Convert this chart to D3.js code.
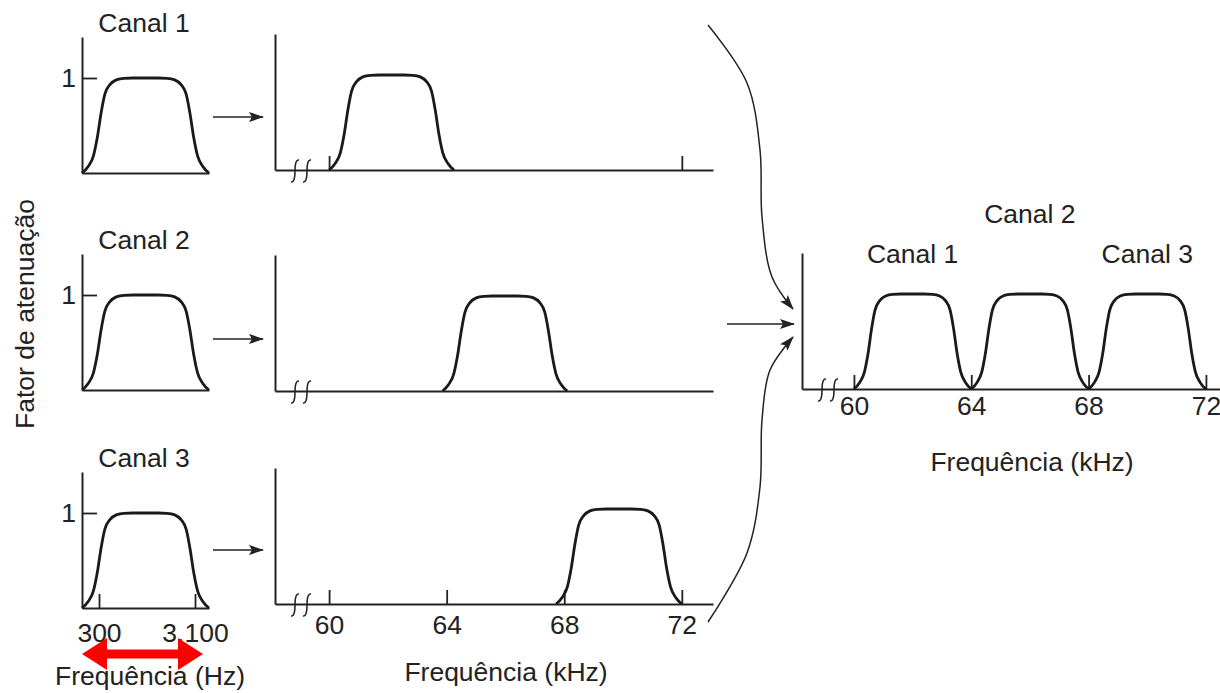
<!DOCTYPE html>
<html>
<head>
<meta charset="UTF-8">
<style>
  body { margin: 0; background: #fff; }
  svg text { font-family: 'Liberation Sans', Arial, sans-serif; fill: #222; }
</style>
</head>
<body>
<svg id="fdm" width="1220" height="693"></svg>
<script src="https://d3js.org/d3.v7.min.js"></script>
<script>
// channel names
const channels = ["Canal 1", "Canal 2", "Canal 3"];

// left column: voice band, Hz
const voiceTicks = [300, 3100];
const voiceTickLabels = ["300", "3.100"];
const voiceBand = [-196, 3508];   // where the drawn filter curve starts and ends

// middle column: each channel shifted up, kHz
const shiftedBands = [[60, 64.25], [63.86, 68.1], [67.72, 72]];
const shiftedTicks = [[60, 72], [], [60, 64, 68, 72]];

// right column: the three channels multiplexed, kHz
const muxBands = [[60, 64], [64, 68], [68, 72]];
const kHzTicks = [60, 64, 68, 72];

// filter response: position across the band (0..1) -> attenuation factor
const filterPos  = [0, 0.05, 0.09, 0.12, 0.15, 0.18, 0.22, 0.27, 0.33, 0.4, 0.6, 0.67, 0.73, 0.78, 0.82, 0.85, 0.88, 0.91, 0.95, 1];
const filterGain = [0, 0.07, 0.18, 0.37, 0.63, 0.83, 0.93, 0.98, 0.997, 1, 1, 0.997, 0.98, 0.93, 0.83, 0.63, 0.37, 0.18, 0.07, 0];

const ink = "#222";
const fontSize = 26.5;
const svg = d3.select("#fdm");

// arrow head
svg.append("defs").append("marker")
  .attr("id", "head")
  .attr("markerUnits", "userSpaceOnUse")
  .attr("markerWidth", 15).attr("markerHeight", 10)
  .attr("refX", 14).attr("refY", 5)
  .attr("orient", "auto")
  .append("path")
    .attr("d", "M0,0 L15,5 L0,10 L3,5 Z")
    .attr("fill", ink);

let shape = filterPos.map((u, i) => [u, filterGain[i]]);

function panel(o) {
  let g = svg.append("g");
  let x = d3.scaleLinear().domain(o.xDomain).range([o.x0, o.x1]);
  let y = d3.scaleLinear().domain([0, 136 / 95]).range([o.base, o.base - 136]);

  // baseline + ticks (ticks point inward)
  let ax = g.append("g")
    .attr("transform", "translate(0," + o.base + ")")
    .call(d3.axisBottom(x)
      .tickValues(o.ticks)
      .tickFormat((d, i) => o.labels ? o.labels[i] : "")
      .tickSizeInner(-14)
      .tickSizeOuter(0)
      .tickPadding(o.pad));

  // vertical axis with the "1" mark
  let ay = g.append("g")
    .attr("transform", "translate(" + o.x0 + ",0)")
    .call(d3.axisLeft(y)
      .tickValues(o.one ? [1] : [])
      .tickFormat(() => "1")
      .tickSizeInner(-15)
      .tickSizeOuter(0)
      .tickPadding(6));

  [ax, ay].forEach(a => {
    a.attr("font-size", null).attr("font-family", null);
    a.select(".domain").attr("stroke", ink).attr("stroke-width", 2);
    a.selectAll(".tick line").attr("stroke", ink).attr("stroke-width", 1.8);
    a.selectAll(".tick text").attr("fill", ink).style("font-size", fontSize + "px");
  });

  // axis break
  if (o.brk) {
    [20, 32].forEach(dx => {
      let cx = o.x0 + dx, b = o.base + 1;
      g.append("path")
        .attr("d", `M${cx + 4},${b - 11} Q${cx},${b - 12} ${cx},${b} Q${cx},${b + 12} ${cx - 4},${b + 11}`)
        .attr("fill", "none").attr("stroke", ink).attr("stroke-width", 1.5);
    });
  }

  // filter curves
  o.bands.forEach(band => {
    let bx = d3.scaleLinear().domain([0, 1]).range([x(band[0]), x(band[1])]);
    g.append("path")
      .datum(shape)
      .attr("d", d3.line().x(d => bx(d[0])).y(d => y(d[1])).curve(d3.curveMonotoneX))
      .attr("fill", "none")
      .attr("stroke", "#1a1a1a")
      .attr("stroke-width", 2.8)
      .attr("stroke-linejoin", "round");
  });
  return { x, y };
}

function label(txt, px, py, opts) {
  let t = svg.append("text")
    .attr("x", px).attr("y", py)
    .attr("text-anchor", "middle")
    .style("font-size", fontSize + "px")
    .text(txt);
  if (opts && opts.rotate) t.attr("transform", "rotate(-90," + px + "," + py + ")");
  return t;
}

// left column
const leftBases = [173, 390, 608];
leftBases.forEach((base, i) => {
  panel({
    x0: 82, x1: 209, base: base, xDomain: [-196, 3508],
    ticks: i === 2 ? voiceTicks : [], labels: i === 2 ? voiceTickLabels : null, pad: 15,
    one: true, brk: false, bands: [voiceBand]
  });
  label(channels[i], 144, base - 141);
});

// middle column
const midBases = [170, 391, 604];
midBases.forEach((base, i) => {
  panel({
    x0: 275, x1: 713, base: base, xDomain: [58.16, 73.06],
    ticks: shiftedTicks[i], labels: i === 2 ? kHzTicks.map(String) : null, pad: 11,
    one: false, brk: true, bands: [shiftedBands[i]]
  });
});

// right column
const right = panel({
  x0: 802, x1: 1220, base: 389, xDomain: [58.23, 72.48],
  ticks: kHzTicks, labels: kHzTicks.map(String), pad: 7,
  one: false, brk: true, bands: muxBands
});
muxBands.forEach((b, i) => {
  label(channels[i], right.x((b[0] + b[1]) / 2), i === 1 ? 223 : 263);
});

// axis titles
label("Frequência (Hz)", 150, 685);
label("Frequência (kHz)", 506, 681);
label("Frequência (kHz)", 1032, 471);
label("Fator de atenuação", 34, 314, { rotate: true });

// arrows: each channel to its shifted copy
[117, 339, 550].forEach(yy => {
  svg.append("line")
    .attr("x1", 213).attr("x2", 263).attr("y1", yy).attr("y2", yy)
    .attr("stroke", ink).attr("stroke-width", 1.6)
    .attr("marker-end", "url(#head)");
});
svg.append("line")
  .attr("x1", 727).attr("x2", 794).attr("y1", 324).attr("y2", 324)
  .attr("stroke", ink).attr("stroke-width", 1.6)
  .attr("marker-end", "url(#head)");

// curved arrows into the multiplexer
const curvy = d3.line().curve(d3.curveCatmullRom);
[
  [[708, 25], [747, 83], [760, 150], [762, 217], [772, 277], [793, 309]],
  [[708, 622], [747, 553], [760, 487], [762, 420], [770, 370], [793, 337]]
].forEach(pts => {
  svg.append("path")
    .attr("d", curvy(pts))
    .attr("fill", "none")
    .attr("stroke", ink).attr("stroke-width", 1.5)
    .attr("marker-end", "url(#head)");
});

// red double arrow under the voice band
let ax0 = 82, ax1 = 203, ay0 = 654, sh = 4.5, hh = 16, hl = 25;
svg.append("path")
  .attr("d", `M${ax0},${ay0} L${ax0 + hl},${ay0 - hh} L${ax0 + hl},${ay0 - sh} L${ax1 - hl},${ay0 - sh}
    L${ax1 - hl},${ay0 - hh} L${ax1},${ay0} L${ax1 - hl},${ay0 + hh} L${ax1 - hl},${ay0 + sh}
    L${ax0 + hl},${ay0 + sh} L${ax0 + hl},${ay0 + hh} Z`)
  .attr("fill", "#ff0000");
</script>
</body>
</html>
